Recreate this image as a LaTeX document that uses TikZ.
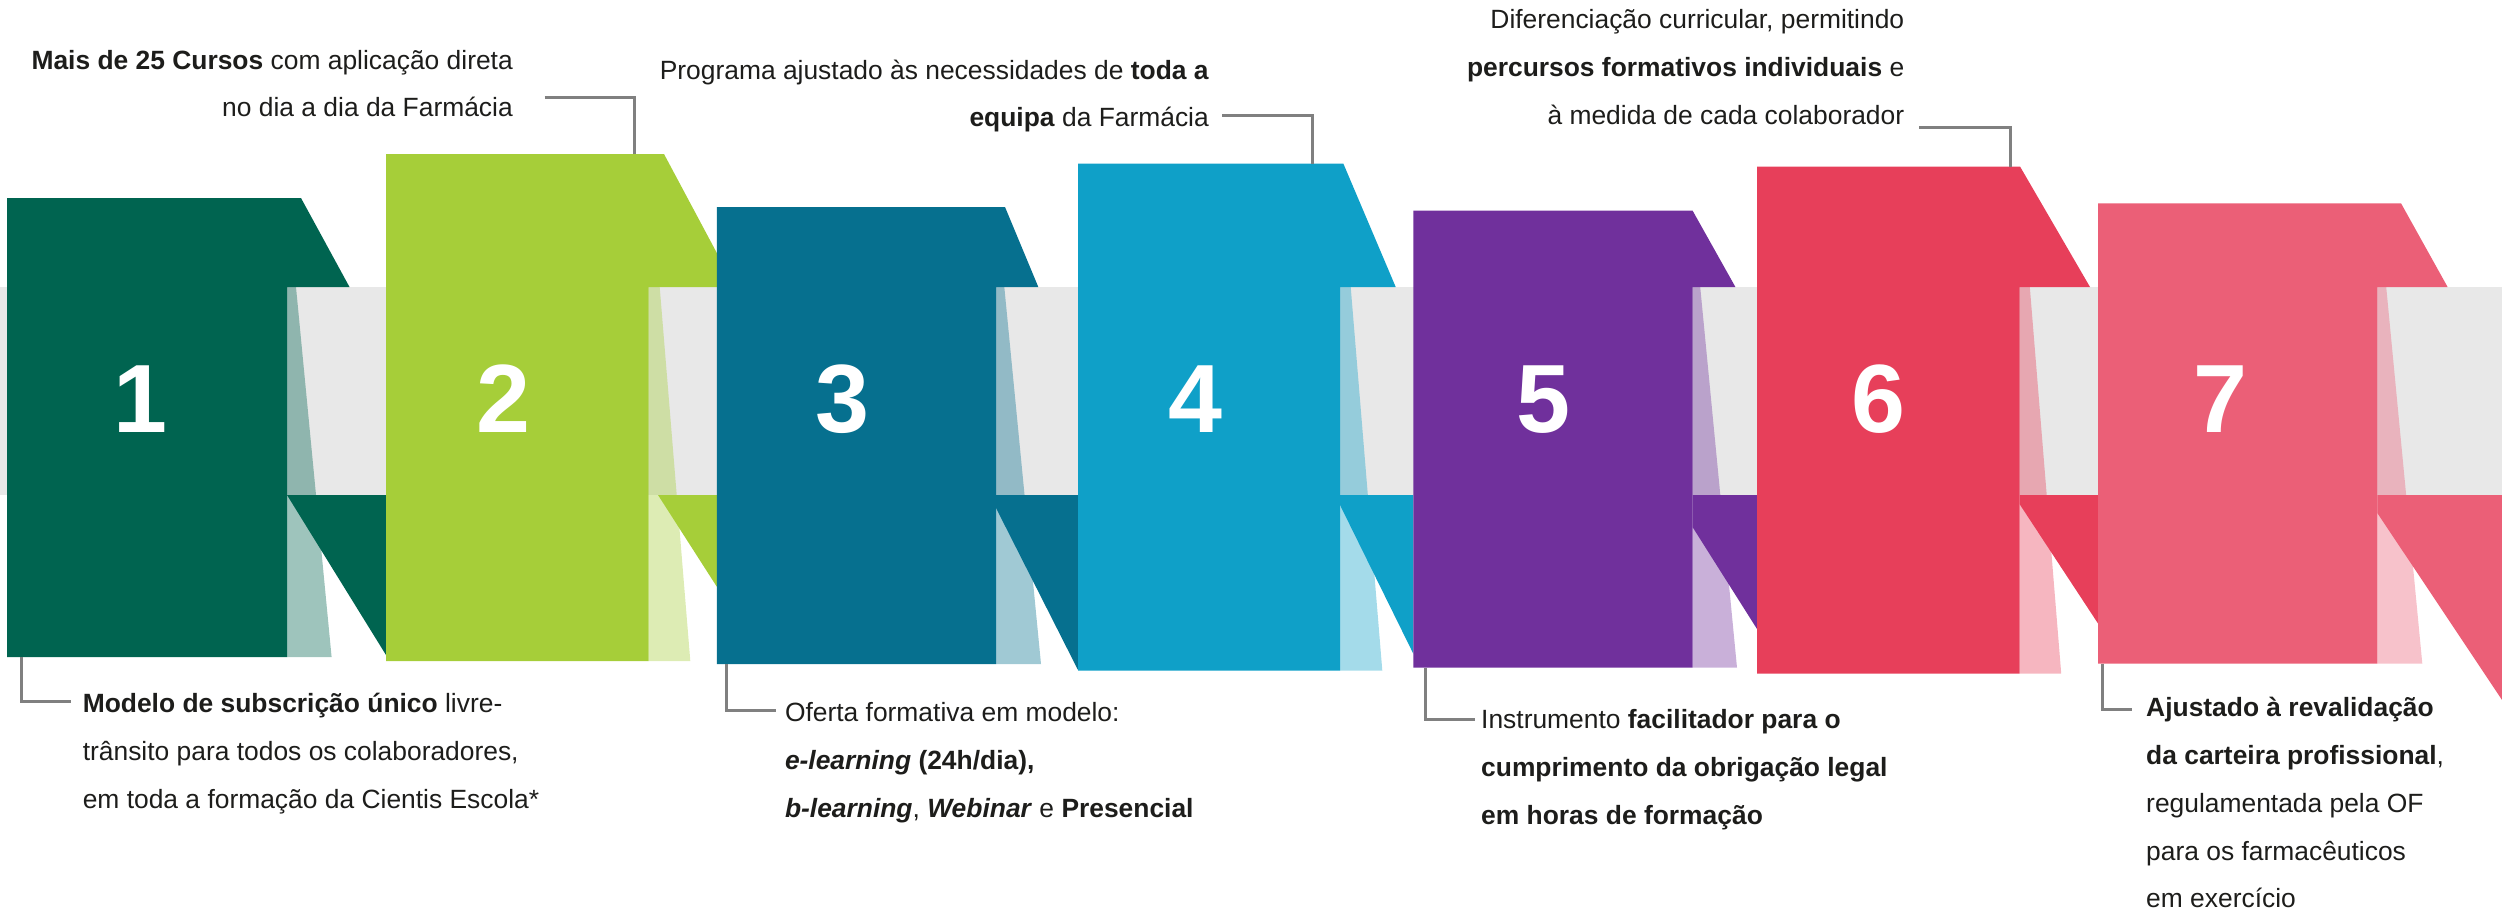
\documentclass[tikz,border=0pt]{standalone}
\usepackage{fontspec}
\setmainfont{Liberation Sans}
\definecolor{cone}{HTML}{006450}
\definecolor{ctwo}{HTML}{A6CE39}
\definecolor{cthree}{HTML}{06708F}
\definecolor{cfour}{HTML}{0FA0C8}
\definecolor{cfive}{HTML}{70309C}
\definecolor{csix}{HTML}{E73F5A}
\definecolor{cseven}{HTML}{EB5F77}
\definecolor{bandgray}{HTML}{E8E8E8}
\definecolor{leadgray}{HTML}{808080}
\definecolor{txt}{HTML}{1D1D1B}

\begin{document}
\begin{tikzpicture}[x=1pt,y=-1pt,
  strip/.style={fill opacity=.38},
  num/.style={text=white,inner sep=0,anchor=base,font={\fontsize{97}{97}\selectfont\bfseries}},
  lab/.style={text=txt,inner sep=0,font={\fontsize{26.4}{47.7}\selectfont}},
  leader/.style={draw=leadgray,line width=3}]
\useasboundingbox (0,0) rectangle (2502,911);
\fill[bandgray] (0,287) rectangle (2502,495);

\fill[cone,strip] (287,287) -- (296,287) -- (331.6,657) -- (287,657) -- cycle;
\fill[cone] (287,495) -- (386,495) -- (386,655) -- cycle;
\fill[cone] (7,198) -- (301,198) -- (349.5,287) -- (287,287) -- (287,657) -- (7,657) -- cycle;

\fill[ctwo,strip] (648.5,287) -- (659.7,287) -- (690.3,661) -- (648.5,661) -- cycle;
\fill[ctwo] (658,495) -- (716.8,495) -- (716.8,586.7) -- cycle;
\fill[ctwo] (386,154) -- (664,154) -- (735,287) -- (648.5,287) -- (648.5,661) -- (386,661) -- cycle;

\fill[cthree,strip] (996,287) -- (1004.3,287) -- (1041,664) -- (996,664) -- cycle;
\fill[cthree] (996,495) -- (1078,495) -- (1078,670) -- (996,508) -- cycle;
\fill[cthree] (716.8,207) -- (1005,207) -- (1038.3,287) -- (996,287) -- (996,664) -- (716.8,664) -- cycle;

\fill[cfour,strip] (1340,287) -- (1350.7,287) -- (1382.3,670.6) -- (1340,670.6) -- cycle;
\fill[cfour] (1340,495) -- (1413.3,495) -- (1413.3,653.7) -- (1340,505) -- cycle;
\fill[cfour] (1078,163.5) -- (1343.3,163.5) -- (1395.7,287) -- (1340,287) -- (1340,670.6) -- (1078,670.6) -- cycle;

\fill[cfive,strip] (1692.5,287) -- (1700.2,287) -- (1737,667.7) -- (1692.5,667.7) -- cycle;
\fill[cfive] (1692.5,495) -- (1757,495) -- (1757,629) -- (1692.5,527) -- cycle;
\fill[cfive] (1413.3,210.5) -- (1692.5,210.5) -- (1735.4,287) -- (1692.5,287) -- (1692.5,667.7) -- (1413.3,667.7) -- cycle;

\fill[csix,strip] (2019.5,287) -- (2029.8,287) -- (2061.2,673.5) -- (2019.5,673.5) -- cycle;
\fill[csix] (2019.5,495) -- (2098,495) -- (2098,623.5) -- (2019.5,504) -- cycle;
\fill[csix] (1757,166.5) -- (2020,166.5) -- (2090,287) -- (2019.5,287) -- (2019.5,673.5) -- (1757,673.5) -- cycle;

\fill[cseven,strip] (2377.3,287) -- (2386.2,287) -- (2422.3,663.7) -- (2377.3,663.7) -- cycle;
\fill[cseven] (2377.3,495) -- (2502,495) -- (2502,700) -- (2377.3,513) -- cycle;
\fill[cseven] (2098,203.3) -- (2401,203.3) -- (2447.6,287) -- (2377.3,287) -- (2377.3,663.7) -- (2098,663.7) -- cycle;

\node[num] (n1) at (140,432) {1};
\node[num] (n2) at (503,432) {2};
\node[num] (n3) at (842,432) {3};
\node[num] (n4) at (1195,432) {4};
\node[num] (n5) at (1543,432) {5};
\node[num] (n6) at (1878,432) {6};
\node[num] (n7) at (2220,432) {7};

\node[lab,anchor=base west,align=left] (lab1) at (82.6,808.3) {\textbf{Modelo de subscrição único} livre-\\trânsito para todos os colaboradores,\\em toda a formação da Cientis Escola*};
\node[lab,anchor=base east,align=right] (lab2) at (513,116.7) {\textbf{Mais de 25 Cursos} com aplicação direta\\no dia a dia da Farmácia};
\node[lab,anchor=base west,align=left] (lab3) at (784.8,817.3) {Oferta formativa em modelo:\\\textbf{\textit{e-learning} (24h/dia),}\\\textbf{\textit{b-learning}}, \textbf{\textit{Webinar}} e \textbf{Presencial}};
\node[lab,anchor=base east,align=right] (lab4) at (1209,126.7) {Programa ajustado às necessidades de \textbf{toda a}\\\textbf{equipa} da Farmácia};
\node[lab,anchor=base west,align=left] (lab5) at (1481,824) {Instrumento \textbf{facilitador para o}\\\textbf{cumprimento da obrigação legal}\\\textbf{em horas de formação}};
\node[lab,anchor=base east,align=right] (lab6) at (1904.4,124) {Diferenciação curricular, permitindo\\\textbf{percursos formativos individuais} e\\à medida de cada colaborador};
\node[lab,anchor=base west,align=left] (lab7) at (2146,907.7) {\textbf{Ajustado à revalidação}\\\textbf{da carteira profissional},\\regulamentada pela OF\\para os farmacêuticos\\em exercício};

\coordinate (b1) at (21,657);
\coordinate (e1) at (70.5,701.7);
\coordinate (t2) at (634,154);
\coordinate (e2) at (544.6,97.3);
\coordinate (b3) at (726.8,664);
\coordinate (e3) at (775.9,710.7);
\coordinate (t4) at (1312.3,163.5);
\coordinate (e4) at (1222,115.7);
\coordinate (b5) at (1425.9,667.7);
\coordinate (e5) at (1475,719.3);
\coordinate (t6) at (2010,166.5);
\coordinate (e6) at (1919,127);
\coordinate (b7) at (2102.3,663.7);
\coordinate (e7) at (2131.7,709.3);
\draw[leader] (b1) |- (e1);
\draw[leader] (e2) -| (t2);
\draw[leader] (b3) |- (e3);
\draw[leader] (e4) -| (t4);
\draw[leader] (b5) |- (e5);
\draw[leader] (e6) -| (t6);
\draw[leader] (b7) |- (e7);
\end{tikzpicture}
\end{document}
